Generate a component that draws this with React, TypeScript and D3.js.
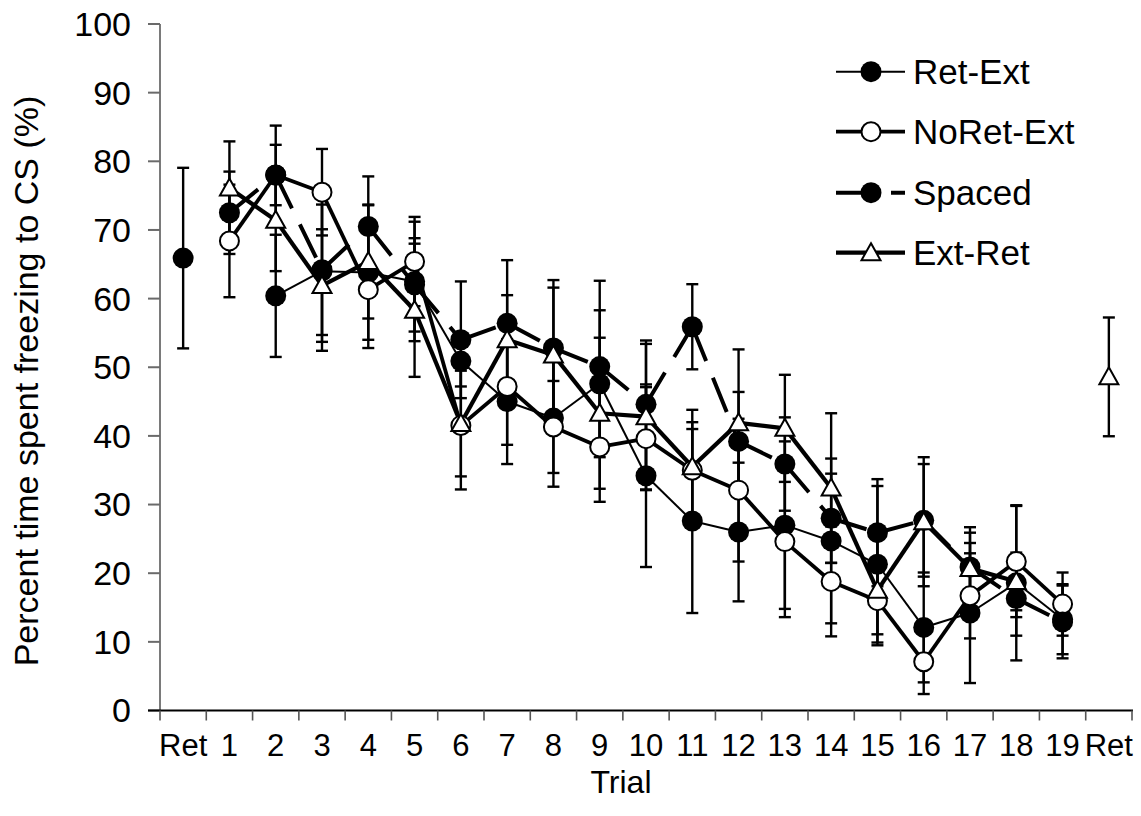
import React from "react";
import * as d3 from "d3";

const categories = ["Ret", "1", "2", "3", "4", "5", "6", "7", "8", "9", "10", "11", "12", "13", "14", "15", "16", "17", "18", "19", "Ret"];
const yTicks = [0, 10, 20, 30, 40, 50, 60, 70, 80, 90, 100];

// trial 1..19 values (null = no data)
const retExtMean = [null, 60.4, 64.0, 63.8, 62.5, 50.9, 45.0, 42.6, 47.6, 34.2, 27.6, 26.0, 27.0, 24.7, 21.3, 12.1, 14.2, 18.6, 13.3];
const retExtErr = [null, 8.9, 11.6, 9.8, 8.7, 3.7, 9.1, 10.0, 10.7, 13.3, 13.4, 10.1, 12.2, 12.0, 11.4, 8.0, 10.2, 11.3, 5.1];
const noRetExtMean = [68.4, 78.0, 75.5, 61.3, 65.4, 41.5, 47.2, 41.3, 38.4, 39.6, 35.0, 32.1, 24.6, 18.8, 16.0, 7.1, 16.7, 21.7, 15.5];
const noRetExtErr = [8.2, 4.4, 6.3, 8.5, 6.5, 9.3, 8.5, 6.7, 8.0, 7.5, 7.0, 10.4, 11.0, 8.0, 4.9, 4.7, 6.2, 8.1, 4.6];
const spacedMean = [72.5, 78.0, 64.2, 70.5, 62.0, 54.0, 56.4, 52.8, 50.1, 44.6, 55.9, 39.2, 35.9, 28.0, 25.9, 27.7, 20.9, 16.3, 12.9];
const spacedErr = [6.0, 7.2, 9.5, 7.3, 6.8, 8.5, 9.2, 9.9, 12.5, 9.3, 6.2, 7.2, 6.8, 6.5, 7.8, 8.2, 5.0, 5.4, 5.3];
const extRetMean = [76.1, 71.4, 61.9, 65.4, 58.3, 41.8, 54.0, 51.8, 43.3, 42.8, 35.5, 41.9, 41.1, 32.4, 17.5, 27.5, 20.7, 18.8, null];
const extRetErr = [6.8, 7.4, 8.2, 8.3, 9.7, 7.7, 6.5, 9.8, 11.0, 10.6, 8.3, 10.7, 7.8, 10.9, 8.0, 9.4, 6.0, 4.2, null];

// retrieval tests (before / after)
const retExtRetBefore = [65.9, 13.15];
const extRetRetAfter = [48.6, 8.65];

type Marker = "filled" | "open" | "triangle";
interface Series {
  name: string;
  marker: Marker;
  width: number;
  dashed: boolean;
  mean: (number | null)[];
  err: (number | null)[];
}

const series: Series[] = [
  { name: "Ret-Ext", marker: "filled", width: 2, dashed: false,
    mean: [retExtRetBefore[0], ...retExtMean, null], err: [retExtRetBefore[1], ...retExtErr, null] },
  { name: "NoRet-Ext", marker: "open", width: 3.8, dashed: false,
    mean: [null, ...noRetExtMean, null], err: [null, ...noRetExtErr, null] },
  { name: "Spaced", marker: "filled", width: 4, dashed: true,
    mean: [null, ...spacedMean, null], err: [null, ...spacedErr, null] },
  { name: "Ext-Ret", marker: "triangle", width: 4.2, dashed: false,
    mean: [null, ...extRetMean, extRetRetAfter[0]], err: [null, ...extRetErr, extRetRetAfter[1]] },
];

const W = 1141;
const H = 816;
const FONT = "'Liberation Sans', Arial, Helvetica, sans-serif";

const x = d3.scaleBand<number>().domain(d3.range(categories.length)).range([160, 1132]).padding(0);
const y = d3.scaleLinear().domain([0, 100]).range([710.5, 24]);
const cx = (i: number) => (x(i) as number) + x.bandwidth() / 2;

function MarkerShape({ kind, px, py }: { kind: Marker; px: number; py: number }) {
  if (kind === "triangle") {
    return (
      <path d={`M${px},${py - 9.5} L${px + 9.5},${py + 7.5} L${px - 9.5},${py + 7.5} Z`}
        fill="#fff" stroke="#000" strokeWidth={2} strokeLinejoin="miter" />
    );
  }
  return (
    <circle cx={px} cy={py} r={kind === "filled" ? 10.5 : 9.5}
      fill={kind === "filled" ? "#000" : "#fff"} stroke="#000" strokeWidth={kind === "filled" ? 0 : 2} />
  );
}

export default function App() {
  const DASH = "37 18";
  const segs: JSX.Element[] = [];
  series.forEach((s, si) => {
    // connect trials 1..19 only (indices 1..19)
    for (let i = 1; i < 19; i++) {
      const a = s.mean[i];
      const b = s.mean[i + 1];
      if (a == null || b == null) continue;
      segs.push(
        <line key={`seg-${si}-${i}`} x1={cx(i)} y1={y(a)} x2={cx(i + 1)} y2={y(b)}
          stroke="#000" strokeWidth={s.width} strokeDasharray={s.dashed ? DASH : undefined}
          strokeLinecap="butt" />
      );
    }
  });

  const errs: JSX.Element[] = [];
  series.forEach((s, si) => {
    s.mean.forEach((m, i) => {
      const e = s.err[i];
      if (m == null || e == null) return;
      const px = cx(i);
      const y1 = y(m + e);
      const y2 = y(m - e);
      errs.push(
        <g key={`err-${si}-${i}`} stroke="#000" strokeWidth={2.4}>
          <line x1={px} x2={px} y1={y1} y2={y2} />
          <line x1={px - 6} x2={px + 6} y1={y1} y2={y1} />
          <line x1={px - 6} x2={px + 6} y1={y2} y2={y2} />
        </g>
      );
    });
  });

  const marks: JSX.Element[] = [];
  series.forEach((s, si) => {
    s.mean.forEach((m, i) => {
      if (m == null) return;
      marks.push(<MarkerShape key={`m-${si}-${i}`} kind={s.marker} px={cx(i)} py={y(m)} />);
    });
  });

  const tickXs = [...d3.range(categories.length).map((i) => x(i) as number), 1132];

  const legendY = [71.7, 131.7, 192.7, 252.7];

  return (
    <svg width={W} height={H} style={{ position: "absolute", left: 0, top: 0, background: "#fff" }}
      fontFamily={FONT}>
      <rect width={W} height={H} fill="#fff" />
      {/* Y axis */}
      <line x1={160} x2={160} y1={y(100)} y2={y(0)} stroke="#7a7a7a" strokeWidth={2} />
      {yTicks.map((t) => (
        <g key={`yt-${t}`}>
          <line x1={148} x2={160} y1={y(t)} y2={y(t)} stroke="#6a6a6a" strokeWidth={2} />
          <text x={131} y={y(t)} dy="0.35em" textAnchor="end" fontSize={34} fill="#000">{t}</text>
        </g>
      ))}
      {/* X axis */}
      <line x1={148} x2={1133} y1={y(0)} y2={y(0)} stroke="#000" strokeWidth={2} />
      {tickXs.map((tx, i) => (
        <line key={`xt-${i}`} x1={tx} x2={tx} y1={y(0)} y2={y(0) + 10} stroke="#555" strokeWidth={1.6} />
      ))}
      {categories.map((c, i) => (
        <text key={`xl-${i}`} x={cx(i)} y={756} textAnchor="middle" fontSize={31} fill="#000">{c}</text>
      ))}
      <text x={621} y={793} textAnchor="middle" fontSize={32} fill="#000">Trial</text>
      <text transform={`translate(38,381) rotate(-90)`} textAnchor="middle" fontSize={34} fill="#000">
        Percent time spent freezing to CS (%)
      </text>

      {errs}
      {segs}
      {marks}

      {/* Legend */}
      {series.map((s, i) => (
        <g key={`lg-${i}`}>
          <line x1={836} x2={905} y1={legendY[i]} y2={legendY[i]} stroke="#000" strokeWidth={s.width}
            strokeDasharray={s.dashed ? DASH : undefined} />
          <MarkerShape kind={s.marker} px={871} py={legendY[i]} />
          <text x={913} y={legendY[i]} dy="0.36em" fontSize={35} fill="#000">{s.name}</text>
        </g>
      ))}
    </svg>
  );
}
